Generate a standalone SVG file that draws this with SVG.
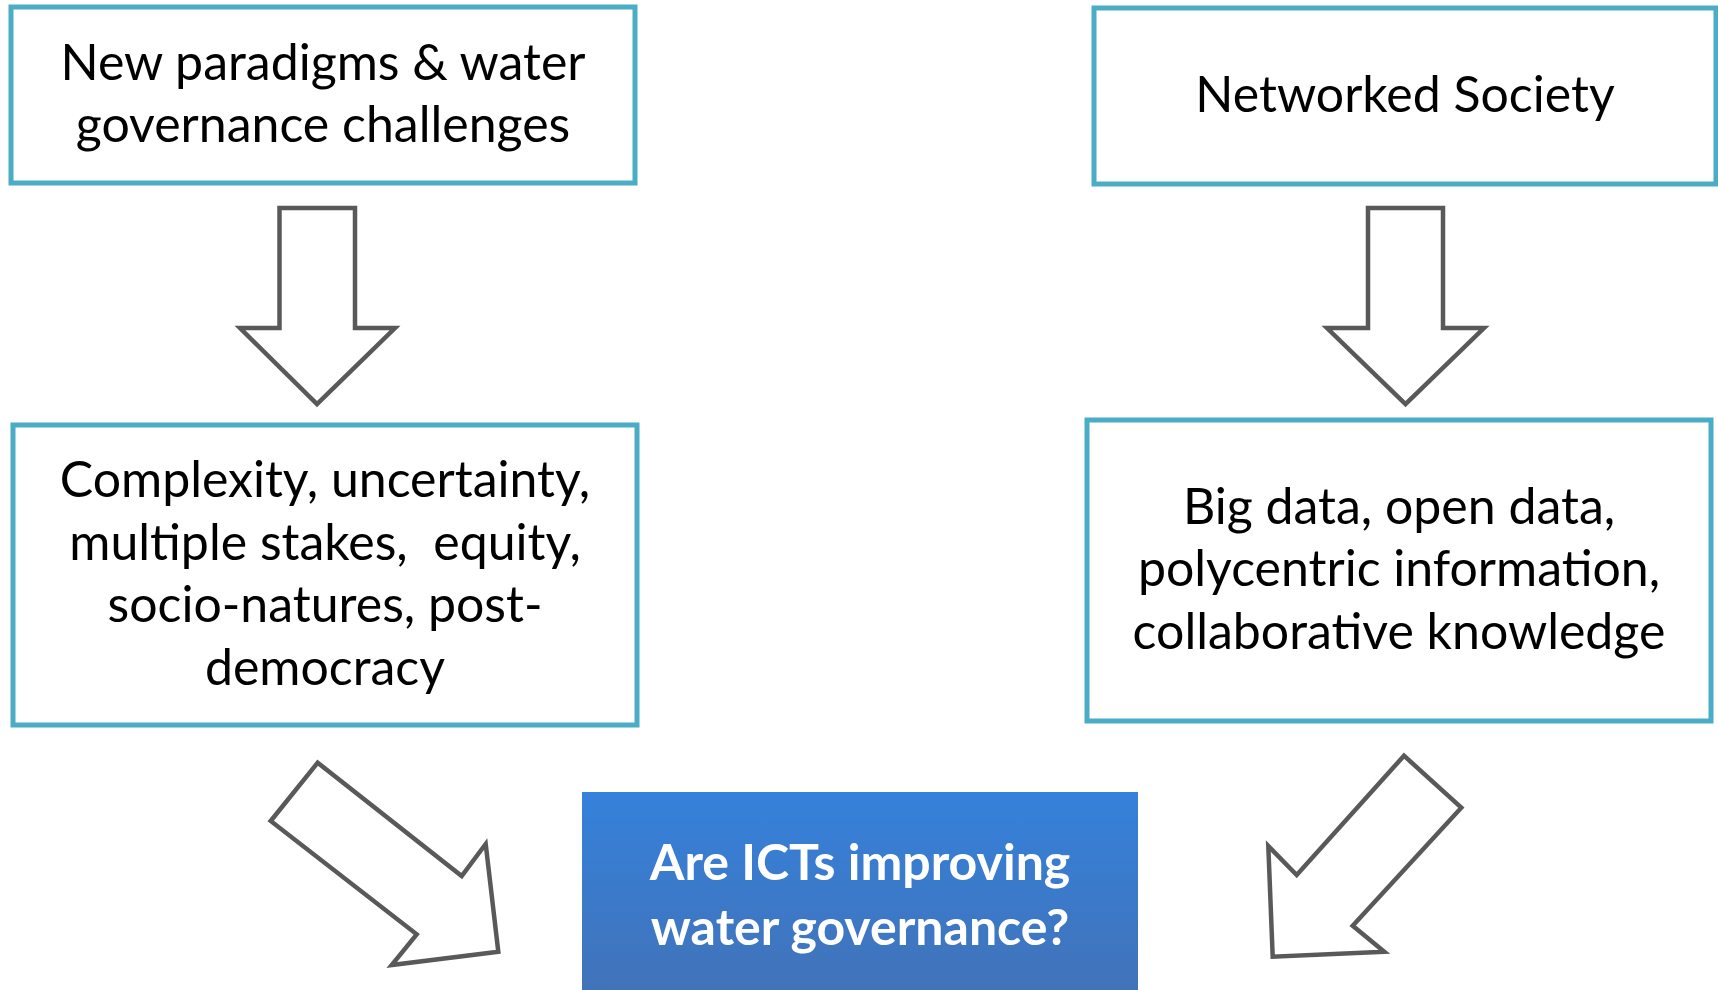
<svg xmlns="http://www.w3.org/2000/svg" width="1718" height="990" viewBox="0 0 1718 990">
  <defs>
    <linearGradient id="qGrad" x1="0" y1="0" x2="0" y2="1">
      <stop offset="0" stop-color="#3581DB"/>
      <stop offset="1" stop-color="#4272B7"/>
    </linearGradient>
    <style>
      .box { fill: #ffffff; stroke: #4BACC6; stroke-width: 5; }
      .arrow { fill: #ffffff; stroke: #595959; stroke-width: 4.5; stroke-linejoin: miter; }
      .label { font-family: Lato, "Open Sans", "Liberation Sans", sans-serif; font-size: 50px; fill: #000000; text-anchor: middle; white-space: pre; }
      .qlabel { font-family: Lato, "Open Sans", "Liberation Sans", sans-serif; font-size: 50px; font-weight: bold; fill: #ffffff; text-anchor: middle; }
    </style>
  </defs>

  <rect width="1718" height="990" fill="#ffffff"/>

  <g id="paradigms">
    <rect class="box" x="11" y="7" width="624" height="176"/>
    <text class="label" x="323" y="80">New paradigms &amp; water</text>
    <text class="label" x="323" y="142">governance challenges</text>
  </g>

  <g id="networked-society">
    <rect class="box" x="1094" y="8" width="622" height="176"/>
    <text class="label" x="1405" y="112">Networked Society</text>
  </g>

  <g id="complexity">
    <rect class="box" x="13" y="425" width="624" height="300"/>
    <text class="label" x="325" y="497">Complexity, uncertainty,</text>
    <text class="label" x="325" y="560" xml:space="preserve">multiple stakes,  equity,</text>
    <text class="label" x="325" y="622">socio-natures, post-</text>
    <text class="label" x="325" y="685">democracy</text>
  </g>

  <g id="big-data">
    <rect class="box" x="1087" y="420" width="624" height="301"/>
    <text class="label" x="1399" y="524">Big data, open data,</text>
    <text class="label" x="1399" y="586">polycentric information,</text>
    <text class="label" x="1399" y="649">collaborative knowledge</text>
  </g>

  <g id="question">
    <rect x="582" y="792" width="556" height="210" fill="url(#qGrad)"/>
    <text class="qlabel" x="860" y="880">Are ICTs improving</text>
    <text class="qlabel" x="860" y="945">water governance?</text>
  </g>

  <g id="connectors">
    <polygon class="arrow" points="279.5,208 355,208 355,328 395,328 317,404 240,328 279.5,328"/>
    <polygon class="arrow" points="1368,208 1443,208 1443,328 1484,328 1405.5,404 1327,328 1368,328"/>
    <polygon class="arrow" points="317.7,762.7 461.7,876 485.7,844 498.3,951.7 391.7,965 416.7,934.3 270.7,821"/>
    <polygon class="arrow" points="1404,755.7 1461.3,807.7 1352.7,925.7 1384.3,951.7 1272.7,956.7 1268.3,846 1296.7,875"/>
  </g>
</svg>
